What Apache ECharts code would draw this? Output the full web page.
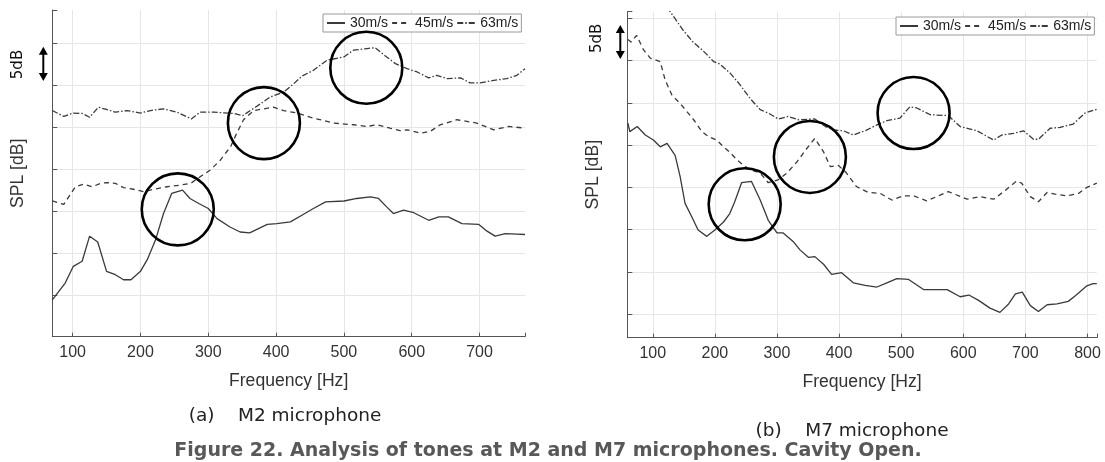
<!DOCTYPE html>
<html><head><meta charset="utf-8">
<script src="https://cdn.jsdelivr.net/npm/echarts@6/dist/echarts.min.js"></script>
<style>html,body{margin:0;padding:0;background:#fff}#c{width:1105px;height:462px}</style>
</head><body><div id="c"></div>
<script>
const seriesNames = ['30m/s', '45m/s', '63m/s'];
// Panel (a) M2 microphone: [frequency Hz, relative SPL dB]
const m2_30 = [[70,4.4],[89,6.4],[101,8.4],[114,9.0],[125,12.0],[137,11.3],[150,7.8],[163,7.4],[175,6.8],[186,6.8],[200,7.8],[210,9.2],[222,11.5],[234,14.7],[246,17.1],[262,17.5],[273,16.5],[286,15.9],[300,15.3],[313,14.1],[332,13.1],[347,12.5],[361,12.4],[374,12.9],[387,13.4],[401,13.5],[421,13.7],[438,14.5],[455,15.3],[473,16.1],[500,16.2],[519,16.5],[539,16.7],[551,16.5],[563,15.5],[573,14.7],[588,15.1],[603,14.8],[625,13.9],[640,14.3],[654,14.3],[674,13.5],[699,13.4],[711,12.6],[723,12.0],[738,12.3],[755,12.25],[767,12.2]];
const m2_45 = [[70,16.2],[87,15.8],[104,17.9],[116,18.2],[129,17.9],[141,18.3],[151,18.4],[163,18.3],[175,17.8],[190,17.6],[205,17.3],[219,17.6],[239,17.9],[259,18.1],[274,18.3],[288,19.1],[303,19.9],[318,21.1],[333,22.7],[342,24.3],[352,25.9],[367,27.0],[382,27.2],[396,27.4],[411,27.0],[431,26.7],[450,26.2],[485,25.5],[514,25.3],[534,25.1],[549,25.3],[568,24.9],[583,24.6],[593,24.7],[613,24.3],[627,24.5],[642,25.3],[667,25.9],[696,25.5],[721,24.7],[743,25.1],[767,24.9]];
const m2_63 = [[70,27.0],[87,26.3],[101,26.7],[114,26.65],[125,26.2],[138,27.4],[151,27.1],[163,26.8],[180,27.0],[200,26.7],[215,27.0],[234,27.2],[254,26.8],[275,26.0],[288,26.8],[308,26.8],[337,26.65],[351,26.4],[362,27.0],[377,27.8],[391,28.6],[411,29.2],[426,30.2],[438,31.1],[455,31.8],[475,33.0],[500,33.4],[514,34.2],[534,34.4],[546,34.5],[563,33.4],[576,32.6],[593,32.0],[608,31.6],[625,30.9],[637,31.2],[652,30.8],[672,30.9],[686,30.3],[701,30.3],[721,30.6],[740,30.8],[755,31.2],[767,32.0]];
// Panel (b) M7 microphone
const m7_30 = [[60,27.6],[63,26.6],[75,27.2],[88,26.2],[101,25.6],[112,24.8],[123,25.2],[136,23.8],[144,21.3],[152,18.1],[163,16.5],[173,14.95],[187,14.2],[200,14.95],[214,15.9],[224,16.9],[232,18.3],[243,20.55],[259,20.7],[273,18.5],[286,16.1],[300,14.6],[310,14.6],[326,13.6],[337,12.6],[351,11.7],[361,11.8],[375,10.9],[388,9.7],[404,9.9],[423,8.7],[442,8.4],[461,8.2],[477,8.7],[493,9.2],[512,9.1],[536,7.9],[555,7.9],[574,7.9],[595,7.05],[609,7.25],[624,6.65],[643,5.7],[659,5.2],[673,6.2],[684,7.4],[695,7.6],[708,6.0],[721,5.3],[735,6.1],[751,6.2],[769,6.5],[781,7.2],[799,8.35],[809,8.6],[815,8.6]];
const m7_45 = [[60,37.5],[65,37.2],[74,38.0],[85,36.3],[96,35.3],[112,34.9],[120,32.7],[131,30.9],[144,29.95],[157,28.8],[168,27.8],[179,26.6],[190,26.0],[203,25.6],[214,24.8],[225,24.1],[235,23.3],[249,22.45],[259,22.05],[273,21.7],[286,20.55],[302,20.9],[316,21.7],[332,23.0],[348,24.6],[361,25.8],[375,24.2],[386,22.45],[399,22.6],[412,21.7],[428,20.1],[447,19.4],[466,19.3],[485,18.5],[504,19.0],[520,19.0],[541,18.4],[557,18.9],[576,19.5],[606,18.6],[627,18.9],[649,18.6],[665,19.5],[686,20.75],[694,20.5],[708,18.9],[721,18.3],[735,19.4],[748,19.2],[767,19.0],[786,19.3],[799,20.0],[815,20.5]];
const m7_63 = [[100,43.5],[128,40.8],[149,38.6],[165,37.2],[182,36.1],[198,34.9],[208,34.6],[225,33.5],[241,32.1],[257,30.5],[273,29.2],[286,28.8],[302,28.1],[318,28.4],[335,28.0],[361,28.1],[378,27.2],[391,26.8],[407,26.7],[423,26.2],[445,26.8],[461,27.4],[477,27.9],[498,28.2],[514,29.55],[525,29.4],[547,28.6],[576,28.5],[595,27.2],[622,26.7],[649,25.6],[662,26.2],[681,26.4],[697,26.7],[713,25.7],[721,25.7],[740,27.0],[756,27.1],[777,27.5],[796,28.8],[815,29.25]];
// Highlighted tones (circle centres)
const m2Circles = [[255,15.2],[382,25.5],[533,32.1]];
const m7Circles = [[248,18.0],[353,23.6],[520,28.8]];

const FONT = 'Liberation Sans, Arial, sans-serif';
const CAPFONT = 'DejaVu Sans, Verdana, sans-serif';
const LINE = '#3a3a3a';
const lineTypes = ['solid', [5, 4], [6, 2, 1.5, 2]];
const chart = echarts.init(document.getElementById('c'), null, {renderer: 'canvas'});

function xAxisCfg(gi, mn, mx, split) {
  return {
    gridIndex: gi, type: 'value', min: mn, max: mx, splitNumber: split,
    axisLine: {lineStyle: {color: '#555', width: 1}},
    axisTick: {inside: true, length: 4, lineStyle: {color: '#555'}},
    axisLabel: {fontFamily: FONT, fontSize: 16, color: '#333', margin: 8,
      formatter: v => (Math.abs(v % 100) < 1e-6 ? String(v) : '')},
    splitLine: {show: true, showMaxLine: false, lineStyle: {color: '#e6e6e6', width: 1}},
    name: 'Frequency [Hz]', nameLocation: 'middle', nameGap: 35,
    nameTextStyle: {fontFamily: FONT, fontSize: 17.6, color: '#333'}
  };
}
function yAxisCfg(gi, extra) {
  return Object.assign({
    gridIndex: gi, type: 'value',
    axisLine: {show: true, lineStyle: {color: '#555', width: 1}},
    axisTick: {show: true, inside: true, length: 5, lineStyle: {color: '#555'}},
    axisLabel: {show: false},
    splitLine: {show: true, showMinLine: false, showMaxLine: false, lineStyle: {color: '#e6e6e6', width: 1}},
    name: 'SPL [dB]', nameLocation: 'middle', nameGap: 25, nameRotate: 90,
    nameTextStyle: {fontFamily: FONT, fontSize: 17.6, color: '#333'}
  }, extra);
}
function circleMarks(list) {
  return {
    symbol: 'circle', symbolSize: 72, silent: true, label: {show: false},
    itemStyle: {color: 'rgba(0,0,0,0)', borderColor: '#000', borderWidth: 2.6},
    data: list.map(c => ({coord: c}))
  };
}
function mkSeries(name, data, gi, ti, circles) {
  const s = {
    name: name, type: 'line', xAxisIndex: gi, yAxisIndex: gi, data: data,
    symbol: 'none', showSymbol: false, animation: false, clip: true,
    lineStyle: {color: LINE, width: 1.3, type: lineTypes[ti]},
    itemStyle: {color: LINE}
  };
  if (circles) s.markPoint = circleMarks(circles);
  return s;
}
function legendCfg(left, top) {
  return {
    data: seriesNames, left: left, top: top, orient: 'horizontal',
    itemWidth: 18, itemHeight: 10, itemGap: 3, padding: [2, 3],
    borderColor: '#9a9a9a', borderWidth: 1, borderRadius: 0, backgroundColor: '#fff',
    selectedMode: false,
    itemStyle: {opacity: 0, borderWidth: 0},
    textStyle: {fontFamily: FONT, fontSize: 14, color: '#222'}
  };
}
function arrow(x, y1, y2) {
  const h = 8, w = 4.5;
  return [
    {type: 'line', shape: {x1: x, y1: y1 + h - 1, x2: x, y2: y2 - h + 1}, style: {stroke: '#000', lineWidth: 2}},
    {type: 'polygon', shape: {points: [[x, y1], [x - w, y1 + h], [x + w, y1 + h]]}, style: {fill: '#000'}},
    {type: 'polygon', shape: {points: [[x, y2], [x - w, y2 - h], [x + w, y2 - h]]}, style: {fill: '#000'}}
  ];
}
function vtext(txt, x, y) {
  return {type: 'text', x: x, y: y, rotation: Math.PI / 2,
    style: {text: txt, fontFamily: CAPFONT, fontSize: 15, fill: '#111', align: 'center', verticalAlign: 'middle'}};
}
function htext(txt, x, y, bold, size, color) {
  return {type: 'text', x: x, y: y,
    style: {text: txt, fontFamily: CAPFONT, fontSize: size, fontWeight: bold ? 'bold' : 'normal',
      fill: color, align: 'center', verticalAlign: 'middle'}};
}

chart.setOption({
  animation: false,
  backgroundColor: '#fff',
  grid: [
    {left: 52.3, top: 10, width: 472.7, height: 326.7},
    {left: 627.3, top: 11.7, width: 469.5, height: 326}
  ],
  legend: [legendCfg(323, 14), legendCfg(896, 17)],
  xAxis: [xAxisCfg(0, 70, 767, 7), xAxisCfg(1, 59, 815, 8)],
  yAxis: [yAxisCfg(0, {min: 0, max: 39, interval: 5}), yAxisCfg(1, {min: 2.2, max: 40.8, splitNumber: 8})],
  series: [
    mkSeries(seriesNames[0], m2_30, 0, 0, m2Circles),
    mkSeries(seriesNames[1], m2_45, 0, 1),
    mkSeries(seriesNames[2], m2_63, 0, 2),
    mkSeries(seriesNames[0], m7_30, 1, 0, m7Circles),
    mkSeries(seriesNames[1], m7_45, 1, 1),
    mkSeries(seriesNames[2], m7_63, 1, 2)
  ],
  graphic: [].concat(
    arrow(43.3, 46.7, 81),
    arrow(620.3, 25, 59),
    [vtext('5dB', 18.3, 64.5), vtext('5dB', 597, 38.3),
     htext('(a)    M2 microphone', 285, 416, false, 18.5, '#222'),
     htext('(b)    M7 microphone', 852, 431, false, 18.5, '#222'),
     htext('Figure 22. Analysis of tones at M2 and M7 microphones. Cavity Open.', 548, 451, true, 19, '#585858')]
  )
});
</script>
</body></html>
